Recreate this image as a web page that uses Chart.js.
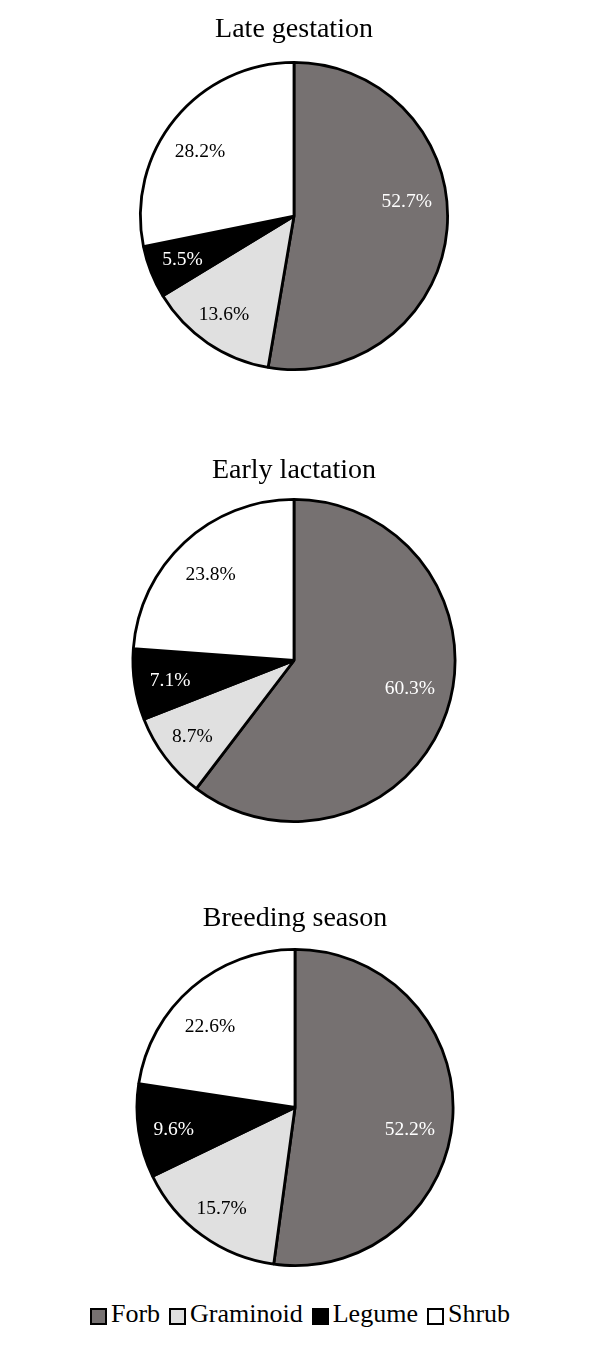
<!DOCTYPE html>
<html>
<head>
<meta charset="utf-8">
<title>Diet composition pies</title>
<script src="https://cdn.jsdelivr.net/npm/chart.js@4.4.1/dist/chart.umd.min.js"></script>
<style>
    body { margin: 0; background: #fff; }
    #page { position: relative; width: 600px; height: 1350px; }
    canvas { position: absolute; left: 0; }
    #legend {
        position: absolute; left: 0; top: 1301px; width: 600px;
        display: flex; justify-content: center; align-items: flex-start;
        font-family: 'Liberation Serif', 'Times New Roman', serif;
        font-size: 26px; line-height: 26px; color: #000;
    }
    .item { display: flex; align-items: flex-start; margin: 0 4.5px; }
    .box { width: 17px; height: 17px; box-sizing: border-box; border: 2px solid #000; margin: 7px 4px 0 0; }
</style>
</head>
<body>
<div id="page">
    <canvas id="pie1" width="600" height="420" style="top:0px"></canvas>
    <canvas id="pie2" width="600" height="450" style="top:420px"></canvas>
    <canvas id="pie3" width="600" height="420" style="top:870px"></canvas>
    <div id="legend"></div>
</div>
<script>
// ---------------------------------------------------------------------------
// Data
// ---------------------------------------------------------------------------
const categories = ['Forb', 'Graminoid', 'Legume', 'Shrub'];
const periods = ['Late gestation', 'Early lactation', 'Breeding season'];
const lateGestation = [52.7, 13.6, 5.5, 28.2];
const earlyLactation = [60.3, 8.7, 7.1, 23.8];
const breedingSeason = [52.2, 15.7, 9.6, 22.6];

// Styles
const sliceColors = ['#767171', '#e0e0e0', '#000000', '#ffffff'];
const labelColors = ['#ffffff', '#000000', '#ffffff', '#000000'];
const labelRadius = [0.74, 0.79, 0.78, 0.74];
const serif = "'Liberation Serif', 'Times New Roman', serif";

// Percent labels inside slices (shift = small angle tweak in degrees, like Excel best fit)
const sliceLabels = {
    id: 'sliceLabels',
    afterDatasetsDraw(chart, args, opts) {
        const ctx = chart.ctx;
        const meta = chart.getDatasetMeta(0);
        const values = chart.data.datasets[0].data;
        const shift = opts.shift || [0, 0, 0, 0];
        ctx.save();
        ctx.font = '19.5px ' + serif;
        ctx.textAlign = 'center';
        ctx.textBaseline = 'middle';
        meta.data.forEach((arc, i) => {
            const p = arc.getProps(['x', 'y', 'startAngle', 'endAngle', 'outerRadius'], true);
            const mid = (p.startAngle + p.endAngle) / 2 + shift[i] * Math.PI / 180;
            const r = p.outerRadius * labelRadius[i];
            ctx.fillStyle = labelColors[i];
            ctx.fillText(values[i].toFixed(1) + '%', p.x + Math.cos(mid) * r, p.y + Math.sin(mid) * r);
        });
        ctx.restore();
    }
};

function makePie(id, title, values, titlePad, pad, shift) {
    return new Chart(document.getElementById(id), {
        type: 'pie',
        data: {
            labels: categories,
            datasets: [{
                data: values,
                backgroundColor: sliceColors,
                borderColor: '#000',
                borderWidth: 2.8
            }]
        },
        options: {
            responsive: false,
            animation: false,
            events: [],
            layout: { padding: pad },
            plugins: {
                legend: { display: false },
                tooltip: { enabled: false },
                title: {
                    display: true,
                    text: title,
                    color: '#000',
                    font: { family: serif, size: 28, weight: 'normal', lineHeight: 1.2 },
                    padding: titlePad
                },
                sliceLabels: { shift: shift }
            }
        },
        plugins: [sliceLabels]
    });
}

makePie('pie1', periods[0], lateGestation, { top: 12.6, bottom: 14.8 },
    { left: 139, right: 151, top: 0, bottom: 49 }, [-12, 1, 0, -5]);
makePie('pie2', periods[1], earlyLactation, { top: 33.6, bottom: 10.8 },
    { left: 131.5, right: 143.5, top: 0, bottom: 47 }, [-5, 0, -1, -1.5]);
makePie('pie3', periods[2], breedingSeason, { top: 31.6, bottom: 12.8 },
    { left: 135, right: 145, top: 0, bottom: 23 }, [7, 0, -2, -6]);

// Shared legend
const legend = document.getElementById('legend');
categories.forEach((name, i) => {
    const item = document.createElement('div');
    item.className = 'item';
    const box = document.createElement('span');
    box.className = 'box';
    box.style.background = sliceColors[i];
    const text = document.createElement('span');
    text.textContent = name;
    item.appendChild(box);
    item.appendChild(text);
    legend.appendChild(item);
});
</script>
</body>
</html>
